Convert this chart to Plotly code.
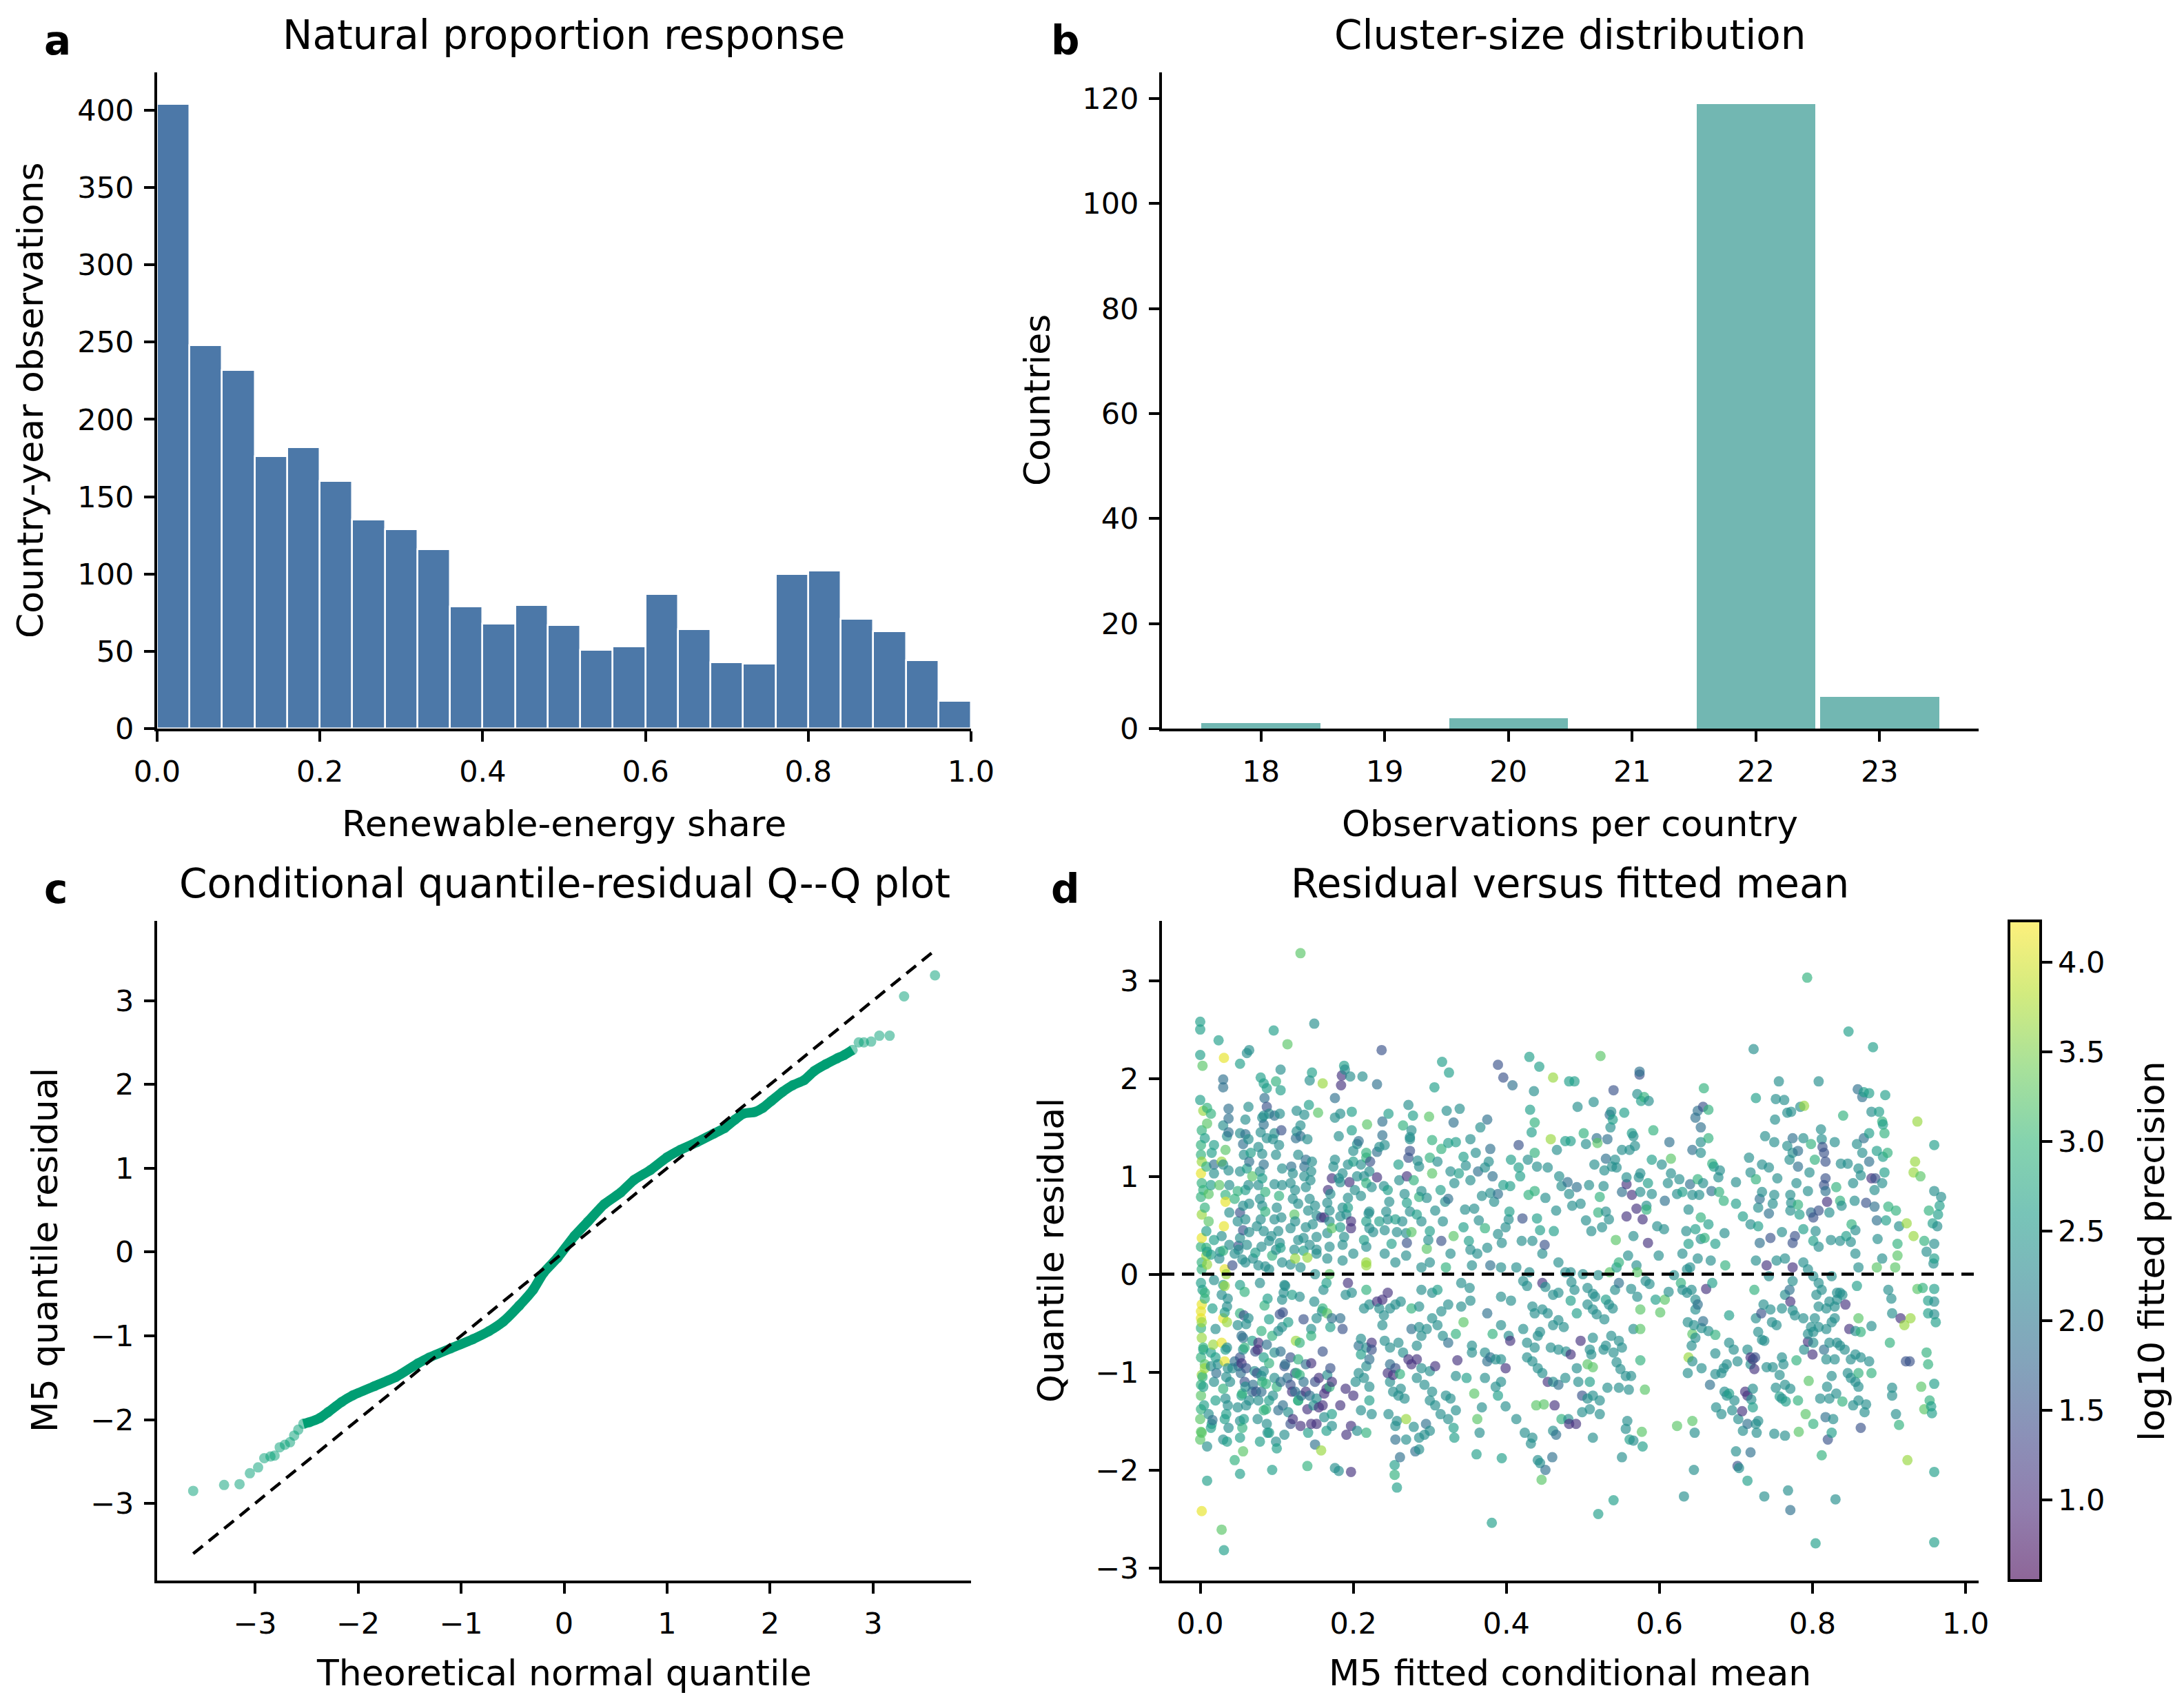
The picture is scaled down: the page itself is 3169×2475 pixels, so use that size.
import plotly.graph_objects as go
from plotly.colors import sequential, hex_to_rgb

W, H = 3169, 2475
FONT = "DejaVu Sans"

# ---- panel a: renewable-energy share histogram (bin width 0.04)
share_bin_mid = [0.02, 0.06, 0.10, 0.14, 0.18, 0.22, 0.26, 0.30, 0.34, 0.38, 0.42, 0.46, 0.50,
                 0.54, 0.58, 0.62, 0.66, 0.70, 0.74, 0.78, 0.82, 0.86, 0.90, 0.94, 0.98]
share_count = [404, 248, 232, 176, 182, 160, 135, 129, 116, 79, 68, 80, 67,
               51, 53, 87, 64, 43, 42, 100, 102, 71, 63, 44, 18]

# ---- panel b: observations per country
obs_per_country = [18, 19, 20, 21, 22, 23]
country_count = [1, 0, 2, 0, 119, 6]

# ---- panel c: Q-Q points
qq_theory = [-3.60, -3.30, -3.15, -3.05, -2.97, -2.91, -2.85, -2.81, -2.76, -2.71,
             -2.66, -2.62, -2.58, -2.53, -2.47, -2.37, -2.29, -2.16, -2.05, -1.84,
             -1.63, -1.42, -1.31, -1.10, -0.885, -0.73, -0.59, -0.435, -0.30, -0.20,
             -0.064, 0.10, 0.23, 0.39, 0.55, 0.68, 0.84, 1.00, 1.13, 1.29,
             1.45, 1.56, 1.66, 1.74, 1.85, 1.93, 2.01, 2.12, 2.22, 2.33,
             2.43, 2.54, 2.65, 2.72, 2.80, 2.86, 2.91, 2.98, 3.06, 3.16, 3.30, 3.60]
qq_resid = [-2.85, -2.78, -2.77, -2.64, -2.57, -2.46, -2.44, -2.43, -2.33, -2.30,
            -2.27, -2.19, -2.12, -2.05, -2.03, -1.98, -1.91, -1.79, -1.71, -1.60,
            -1.49, -1.33, -1.26, -1.15, -1.04, -0.945, -0.83, -0.64, -0.45, -0.25,
            -0.07, 0.19, 0.36, 0.57, 0.71, 0.86, 0.98, 1.13, 1.22, 1.31,
            1.41, 1.48, 1.58, 1.65, 1.67, 1.72, 1.80, 1.91, 1.99, 2.05,
            2.16, 2.24, 2.31, 2.35, 2.41, 2.50, 2.50, 2.51, 2.58, 2.58, 3.05, 3.30]
qq_ref = [-3.6, 3.6]

# ---- panel d: (fitted mean, quantile residual) grouped by log10 fitted precision
prec_11 = [(0.185,2.03),(0.184,1.93),(0.27,1.00),(0.231,0.99),(0.195,0.94),(0.197,0.47),(0.197,0.54),(0.172,0.98),(0.167,0.86),(0.162,0.58),
    (0.877,0.98),(0.819,0.74),(0.557,0.92),(0.564,0.81),(0.557,0.59),(0.57,0.67),(0.578,0.56),(0.585,0.32),
    (0.076,-0.70),(0.075,-0.77),(0.121,-1.48),(0.131,-1.55),(0.138,-1.20),(0.14,-1.38),(0.155,-1.36),(0.155,-1.06),(0.162,-1.22),(0.172,-1.10),
    (0.152,-1.53),(0.183,-1.34),(0.19,-1.17),(0.2,-1.24),(0.197,-1.55),(0.191,-1.64),(0.197,-2.02),(0.193,-0.09),(0.224,-0.70),(0.231,-0.28),
    (0.238,-0.26),(0.245,-0.19),(0.245,-1.01),(0.252,-1.03),(0.272,-0.87),(0.276,-0.92),(0.283,-0.87),(0.307,-0.94),(0.336,-0.88),(0.399,-0.96),
    (0.405,-0.68),(0.463,-1.34),(0.482,-1.53),(0.454,-1.10),(0.447,-0.09),
    (0.661,-0.15),(0.708,-1.40),(0.712,-1.20),(0.715,-1.24),(0.719,-0.85),(0.722,-0.87),(0.724,-0.97),(0.74,0.09),(0.491,-1.53),(0.497,-0.68),
    (0.484,-0.82),(0.8,-0.82),(0.794,-0.69),(0.843,-0.31),(0.771,-0.28),(0.774,0.07),(0.848,-0.56),(0.915,-0.45),
    (0.054,-0.91),(0.12,-1.20),(0.145,-0.91),(0.165,-1.17),(0.16,-1.34),(0.145,-1.53)]
prec_15 = [(0.237,2.29),(0.389,2.14),(0.396,2.01),(0.416,1.32),(0.421,0.57),(0.45,0.30),(0.315,0.34),(0.274,1.26),(0.272,1.19),(0.27,0.32),
    (0.222,1.15),(0.158,0.58),(0.106,1.47),(0.087,1.71),(0.052,0.63),(0.056,0.45),
    (0.574,2.04),(0.540,1.88),(0.657,1.71),(0.813,1.30),(0.815,1.24),(0.817,1.15),(0.882,0.98),(0.817,0.98),(0.815,0.91),(0.808,0.65),
    (0.801,0.58),(0.87,0.73),(0.777,0.39),(0.774,0.32),(0.745,0.37),
    (0.052,-0.85),(0.104,-0.41),(0.118,-0.85),(0.118,-1.13),(0.124,-1.01),(0.186,-0.56),(0.224,-0.77),(0.255,-0.96),(0.042,0.09),
    (0.702,-1.96),(0.725,-0.85),(0.733,-0.40),(0.499,-1.24),(0.82,-1.69),(0.863,-1.57),(0.922,-0.89),(0.927,-0.89),
    (0.05,0.29),(0.057,-0.42),(0.06,-0.96),(0.058,-1.10),(0.072,-0.79),(0.074,-1.01),(0.073,-1.20),(0.108,-0.39),(0.11,-0.94),(0.118,-1.53),
    (0.135,-0.46),(0.16,-0.79),(0.17,-0.96),(0.15,-1.10)]
prec_19 = [(0.03,1.99),(0.03,1.91),(0.176,1.80),(0.084,1.80),(0.231,1.94),(0.408,1.93),
    (0.037,1.69),(0.097,1.62),(0.238,1.56),(0.331,1.55),(0.375,1.58),(0.48,0.94),(0.389,0.82),(0.379,1.28),(0.382,1.00),(0.363,1.05),
    (0.324,0.77),(0.238,1.42),(0.231,1.25),(0.207,1.36),(0.136,1.10),(0.138,1.17),(0.131,1.41),(0.125,1.39),(0.119,1.10),(0.083,1.53),
    (0.083,1.12),(0.059,1.43),(0.056,1.33),(0.064,1.15),(0.037,1.59),(0.037,1.45),(0.018,1.12),
    (0.574,2.07),(0.859,1.89),(0.865,1.81),(0.535,1.63),(0.65,1.67),(0.647,1.60),(0.654,1.50),(0.643,1.27),(0.613,1.35),(0.518,1.39),
    (0.532,1.38),(0.774,1.39),(0.781,1.26),(0.781,1.10),(0.867,1.39),(0.874,1.15),(0.817,0.85),(0.743,0.62),(0.731,0.77),(0.668,0.85),
    (0.64,0.92),(0.607,0.75),(0.551,0.84),(0.53,1.18),(0.492,0.89),(0.798,0.63),(0.881,0.69),(0.884,0.55),(0.731,0.32),
    (0.016,-1.49),(0.045,-0.89),(0.05,-0.94),(0.054,-0.63),(0.069,-1.13),(0.068,-1.20),(0.08,-1.20),(0.102,-1.39),(0.111,-0.92),(0.114,-1.06),
    (0.124,-1.20),(0.138,-0.92),(0.135,-1.10),(0.143,-1.24),(0.15,-1.74),(0.172,-0.45),(0.183,-0.45),(0.207,-0.73),(0.221,-0.87),(0.248,-0.92),
    (0.255,-1.69),(0.281,-1.81),(0.261,-1.87),(0.276,-0.56),(0.295,-1.53),(0.324,-0.70),(0.379,-0.85),(0.375,-0.89),(0.375,-0.40),(0.451,-2.00),
    (0.46,-1.87),(0.465,-1.64),(0.468,-1.13),(0.379,0.09),
    (0.547,-0.09),(0.65,-0.31),(0.657,-0.48),(0.666,-1.13),(0.715,-1.53),(0.719,-1.82),(0.771,-2.41),(0.817,-1.46),(0.815,-0.77),(0.77,-0.16),
    (0.021,-1.01),(0.056,-0.65),(0.053,-1.01),(0.087,-0.72),(0.105,-0.79),(0.105,-1.10),(0.108,-1.34),(0.132,-1.24)]
prec_22 = [(0.061,2.26),(0.064,2.29),(0.149,2.56),(0.105,2.09),(0.143,1.98),(0.189,2.09),(0.196,2.02),(0.212,2.02),(0.436,1.87),
    (0.063,1.71),(0.059,1.58),(0.083,1.62),(0.104,1.64),(0.126,1.67),(0.136,1.63),(0.176,1.60),(0.183,1.64),(0.272,1.73),(0.322,1.67),
    (0.339,1.69),(0.366,1.50),(0.466,1.27),(0.428,1.17),(0.44,1.10),(0.454,1.09),(0.469,1.00),(0.472,0.90),(0.451,0.78),(0.465,0.65),
    (0.42,0.34),(0.434,0.34),(0.384,0.74),(0.377,1.15),(0.372,1.09),(0.379,0.83),(0.403,0.56),(0.399,0.48),(0.389,0.41),(0.36,1.24),
    (0.353,1.38),(0.347,1.11),(0.353,0.96),(0.368,0.80),(0.358,0.67),(0.346,0.66),(0.364,0.55),(0.375,0.27),(0.353,0.25),(0.394,0.32),
    (0.31,1.15),(0.327,1.05),(0.332,0.93),(0.32,0.74),(0.307,0.65),(0.317,0.54),(0.289,0.85),(0.296,0.78),(0.289,0.54),(0.298,0.35),
    (0.274,1.38),(0.284,1.16),(0.286,1.10),(0.26,0.96),(0.267,0.82),(0.274,0.64),(0.264,0.54),(0.257,0.43),(0.269,0.42),(0.276,1.47),
    (0.274,1.40),(0.234,1.30),(0.241,1.32),(0.221,1.05),(0.214,1.00),(0.224,0.89),(0.24,0.90),(0.247,0.74),(0.243,0.64),(0.245,0.56),
    (0.241,0.45),(0.22,0.62),(0.221,0.64),(0.221,0.47),(0.226,0.43),(0.217,0.28),(0.2,1.26),(0.205,1.33),(0.21,1.12),(0.193,1.12),
    (0.186,1.03),(0.205,1.00),(0.202,0.86),(0.21,0.80),(0.193,0.78),(0.186,0.68),(0.191,0.61),(0.183,0.59),(0.188,0.38),(0.186,0.30),
    (0.181,1.41),(0.176,1.17),(0.174,1.10),(0.181,0.98),(0.183,0.94),(0.17,0.82),(0.166,0.73),(0.169,0.65),(0.169,0.54),(0.166,0.42),
    (0.169,0.28),(0.146,1.15),(0.145,1.05),(0.136,1.00),(0.144,0.96),(0.138,0.89),(0.143,0.77),(0.15,0.70),(0.141,0.65),(0.152,0.60),
    (0.147,0.51),(0.138,0.48),(0.135,0.37),(0.152,0.38),(0.143,0.30),(0.152,0.25),(0.131,1.52),(0.126,1.46),(0.14,1.38),(0.128,1.22),
    (0.121,1.03),(0.118,0.93),(0.124,0.86),(0.121,0.77),(0.128,0.72),(0.124,0.54),(0.118,0.47),(0.128,0.35),(0.123,0.25),(0.097,1.44),
    (0.103,1.32),(0.095,1.38),(0.107,1.08),(0.099,1.22),(0.107,0.91),(0.097,0.92),(0.1,0.68),(0.106,0.58),(0.097,0.56),(0.102,0.44),
    (0.093,0.39),(0.104,0.32),(0.099,0.25),(0.09,1.64),(0.081,1.60),(0.079,1.45),(0.087,1.39),(0.076,1.30),(0.081,1.23),(0.078,1.05),
    (0.076,0.91),(0.078,0.77),(0.081,0.70),(0.079,0.56),(0.074,0.49),(0.083,0.44),(0.09,0.34),(0.08,0.28),(0.052,1.44),(0.063,1.38),
    (0.057,1.22),(0.052,1.05),(0.063,0.91),(0.056,0.70),(0.064,0.72),(0.059,0.56),(0.049,0.54),(0.064,0.43),(0.052,0.37),(0.061,0.30),
    (0.05,0.25),(0.03,1.52),(0.035,1.41),(0.03,1.12),(0.037,1.06),(0.038,0.91),(0.038,0.63),(0.028,0.39),(0.038,0.30),(0.026,0.23),
    (0.018,1.03),
    (0.723,2.30),(0.756,1.97),(0.808,1.97),(0.752,1.79),(0.763,1.78),(0.493,1.71),(0.514,1.76),(0.571,1.84),(0.586,1.77),(0.537,1.66),
    (0.536,1.50),(0.784,1.71),(0.767,1.65),(0.772,1.66),(0.751,1.58),(0.877,1.66),(0.654,1.35),(0.654,1.24),(0.504,1.33),(0.566,1.41),
    (0.561,1.27),(0.568,1.31),(0.551,1.27),(0.738,1.41),(0.75,1.35),(0.788,1.39),(0.767,1.31),(0.774,1.24),(0.77,1.17),(0.779,0.93),
    (0.811,1.48),(0.812,1.38),(0.829,1.35),(0.858,1.33),(0.865,1.24),(0.837,1.13),(0.846,1.13),(0.86,1.08),(0.863,1.01),(0.891,0.93),
    (0.881,0.86),(0.853,0.93),(0.796,1.04),(0.838,0.70),(0.794,0.85),(0.772,0.73),(0.771,0.81),(0.75,0.81),(0.748,0.72),(0.729,0.68),
    (0.734,0.84),(0.754,0.98),(0.717,1.19),(0.719,1.04),(0.734,1.12),(0.743,1.09),(0.7,0.94),(0.719,0.51),(0.679,1.06),(0.677,0.99),
    (0.657,0.93),(0.643,0.81),(0.652,0.81),(0.626,0.97),(0.623,0.82),(0.615,1.03),(0.611,0.93),(0.603,1.12),(0.59,0.82),(0.575,1.03),
    (0.573,0.99),(0.575,0.84),(0.557,0.99),(0.544,1.09),(0.538,1.10),(0.528,1.06),(0.542,1.17),(0.515,1.12),(0.527,0.90),(0.508,0.91),
    (0.482,0.82),(0.497,0.72),(0.486,0.70),(0.53,0.64),(0.534,0.56),(0.504,0.55),(0.511,0.44),(0.525,0.48),(0.583,0.70),(0.597,0.49),
    (0.606,0.46),(0.566,0.39),(0.638,0.66),(0.635,0.44),(0.685,0.42),(0.654,0.36),(0.771,0.65),(0.822,0.63),(0.855,0.75),(0.856,0.45),
    (0.913,0.49),(0.959,0.85),(0.968,0.79),(0.963,0.49),(0.76,0.43),(0.824,0.35),(0.836,0.34),(0.85,0.33),(0.885,0.36),(0.959,0.31),
    (0.804,0.44),(0.808,0.28),
    (0.009,-1.76),(0.011,-1.43),(0.014,-0.94),(0.023,-0.92),(0.035,-0.75),(0.028,-0.21),(0.035,-0.33),(0.033,-1.27),(0.03,-1.69),(0.039,-1.10),
    (0.042,-0.96),(0.056,-0.77),(0.049,-0.52),(0.059,-1.15),(0.049,-1.36),(0.052,-1.50),(0.064,-1.29),(0.071,-0.99),(0.063,-0.45),(0.083,-0.99),
    (0.076,-1.29),(0.087,-1.53),(0.088,-1.62),(0.08,-1.04),(0.097,-0.80),(0.097,-1.06),(0.095,-1.24),(0.099,-1.71),(0.107,-0.54),(0.107,-0.26),
    (0.111,-0.12),(0.109,-0.19),(0.148,-1.34),(0.152,-1.27),(0.166,-1.03),(0.162,-1.46),(0.172,-1.55),(0.145,-0.56),(0.152,-0.45),(0.149,-0.28),
    (0.159,-0.38),(0.161,-0.16),(0.205,-1.60),(0.176,-1.98),(0.181,-2.01),(0.19,-0.21),(0.198,-0.19),(0.21,-0.66),(0.217,-0.75),(0.217,-0.94),
    (0.207,-1.01),(0.214,-1.06),(0.221,-1.15),(0.21,-1.39),(0.224,-1.43),(0.203,-1.10),(0.221,-0.31),(0.214,-0.35),(0.234,-0.35),(0.238,-0.52),
    (0.24,-0.42),(0.248,-0.35),(0.255,-0.31),(0.262,-0.28),(0.248,-1.10),(0.252,-1.20),(0.262,-1.17),(0.267,-1.27),(0.259,-1.24),(0.241,-0.68),
    (0.248,-0.75),(0.259,-0.70),(0.265,-0.80),(0.246,-1.43),(0.257,-1.50),(0.255,-1.55),(0.269,-1.69),(0.279,-1.56),(0.286,-1.79),(0.286,-0.54),
    (0.289,-0.63),(0.283,-0.73),(0.283,-1.06),(0.289,-0.96),(0.3,-0.99),(0.293,-1.13),(0.303,-1.20),(0.3,-1.29),(0.307,-1.34),(0.293,-1.64),
    (0.286,-1.67),(0.3,-1.60),(0.314,-1.43),(0.324,-1.48),(0.321,-1.24),(0.327,-1.27),(0.334,-1.39),(0.286,-0.33),(0.289,-0.16),(0.303,-0.19),
    (0.296,-0.56),(0.303,-0.45),(0.31,-0.52),(0.317,-0.63),(0.334,-1.04),(0.315,-0.38),(0.324,-0.31),(0.341,-0.33),(0.353,-0.27),(0.368,-1.36),
    (0.365,-1.62),(0.372,-1.06),(0.386,-1.15),(0.393,-1.10),(0.399,-1.35),(0.355,-0.73),(0.355,-0.80),(0.372,-0.80),(0.386,-0.87),(0.393,-0.87),
    (0.393,-0.52),(0.403,-0.63),(0.393,-0.23),(0.406,-0.27),(0.422,-0.56),(0.413,-1.48),(0.424,-1.62),(0.434,-1.67),(0.432,-1.73),(0.441,-1.90),
    (0.444,-1.93),(0.461,-1.60),(0.427,-0.85),(0.434,-0.89),(0.441,-0.96),(0.447,-1.01),(0.461,-1.10),(0.477,-1.06),(0.427,-0.70),(0.437,-0.75),
    (0.441,-0.63),(0.444,-0.59),(0.434,-0.33),(0.437,-0.40),(0.447,-0.36),(0.454,-0.40),(0.461,-0.52),(0.468,-0.47),(0.475,-0.54),(0.461,-0.21),
    (0.468,-0.19),(0.458,-0.75),(0.468,-0.77),(0.478,-0.79),(0.451,-0.13),(0.422,-0.07),(0.427,-0.12),(0.025,0.16),(0.045,0.21),(0.059,0.12),
    (0.069,0.16),(0.076,0.09),(0.09,0.05),(0.107,0.12),(0.131,0.07),(0.152,0.21),(0.166,0.16),(0.186,0.14),(0.2,0.21),(0.241,0.21),
    (0.255,0.12),(0.269,0.19),(0.289,0.07),(0.3,0.12),(0.327,0.21),(0.355,0.09),(0.362,0.21),(0.393,0.07),(0.413,0.07),(0.43,0.02),
    (0.447,0.21),(0.468,0.12),(0.477,0.02),(0.341,-0.09),(0.352,-0.14),
    (0.485,-0.08),(0.489,-0.16),(0.506,-0.14),(0.513,-0.20),(0.516,-0.23),(0.506,-0.31),(0.513,-0.36),(0.518,-0.41),(0.534,-0.31),(0.539,-0.35),
    (0.528,-0.46),(0.542,-0.16),(0.563,-0.15),(0.571,-0.23),(0.582,-0.07),(0.587,-0.10),(0.566,-0.56),(0.612,-0.18),(0.619,-0.01),(0.63,-0.16),
    (0.636,-0.19),(0.642,-0.16),(0.636,0.05),(0.64,0.07),(0.647,-0.26),(0.647,-0.36),(0.637,-0.49),(0.645,-0.52),(0.655,-0.55),(0.664,-0.58),
    (0.647,-0.65),(0.642,-0.73),(0.643,-0.89),(0.637,-1.01),(0.655,-0.96),(0.673,-0.81),(0.681,-1.01),(0.673,-1.02),(0.691,-0.70),(0.697,-0.77),
    (0.702,-0.89),(0.688,-0.92),(0.684,-0.96),(0.685,-1.20),(0.688,-1.24),(0.698,-1.29),(0.674,-1.36),(0.681,-1.43),(0.695,-1.39),(0.703,-1.48),
    (0.709,-1.60),(0.722,-1.17),(0.72,-1.28),(0.726,-1.53),(0.729,-1.50),(0.727,-1.62),(0.715,-0.77),(0.719,-0.92),(0.729,-0.59),(0.734,-0.67),
    (0.737,-0.68),(0.726,-0.45),(0.736,-0.31),(0.745,-0.36),(0.747,-0.49),(0.753,-0.52),(0.76,-0.35),(0.743,-0.02),(0.7,-1.81),(0.704,-1.98),
    (0.645,-2.00),(0.632,-2.27),(0.737,-2.27),(0.768,-2.21),(0.83,-2.30),(0.551,-1.87),(0.513,-1.67),(0.558,-1.50),(0.556,-1.58),(0.566,-1.70),
    (0.646,-1.62),(0.481,-1.48),(0.499,-1.41),(0.509,-1.38),(0.522,-1.43),(0.506,-1.27),(0.513,-1.24),(0.522,-1.29),(0.494,-1.10),(0.532,-1.16),
    (0.547,-1.16),(0.56,-1.18),(0.556,-1.04),(0.563,-1.04),(0.544,-0.90),(0.549,-0.97),(0.492,-0.96),(0.509,-0.77),(0.511,-0.82),(0.53,-0.73),
    (0.537,-0.63),(0.547,-0.68),(0.527,-0.77),(0.551,-0.75),(0.54,-0.80),(0.513,-0.65),(0.74,-0.95),(0.748,-0.95),(0.76,-0.85),(0.762,-0.92),
    (0.757,-1.03),(0.752,-1.16),(0.764,-1.13),(0.771,-1.17),(0.76,-1.27),(0.75,-1.63),(0.764,-1.65),(0.81,-1.27),(0.822,-1.27),(0.831,-1.22),
    (0.819,-1.15),(0.825,-1.04),(0.827,-1.48),(0.853,-1.34),(0.86,-1.29),(0.87,-1.33),(0.868,-1.41),(0.789,-0.77),(0.822,-0.70),(0.818,-0.87),
    (0.829,-0.87),(0.836,-0.73),(0.842,-0.77),(0.832,-0.70),(0.85,-0.87),(0.856,-0.82),(0.863,-0.85),(0.874,-0.89),(0.85,-1.06),(0.846,-1.01),
    (0.856,-1.10),(0.86,-1.15),(0.801,-0.70),(0.808,-0.54),(0.801,-0.59),(0.803,-0.45),(0.808,-0.33),(0.794,-0.61),(0.818,-0.56),(0.825,-0.49),
    (0.829,-0.45),(0.818,-0.35),(0.822,-0.28),(0.829,-0.33),(0.832,-0.26),(0.839,-0.21),(0.836,-0.19),(0.777,-0.42),(0.774,-0.37),(0.798,-0.54),
    (0.788,-0.45),(0.774,-0.07),(0.764,-0.21),(0.788,0.12),(0.794,0.05),(0.801,-0.02),(0.808,-0.09),(0.812,-0.16),(0.805,-0.21),(0.825,-0.02),
    (0.832,-0.19),(0.856,-0.58),(0.877,-0.53),(0.899,-0.16),(0.903,-0.25),(0.904,-0.40),(0.959,-0.28),(0.959,-0.41),(0.904,-1.16),(0.904,-1.24),
    (0.909,-1.43),(0.484,0.02),(0.5,0.0),(0.52,-0.01),(0.559,0.19),(0.57,0.09),(0.599,0.19),(0.63,0.21),(0.65,0.16),(0.667,0.14),
    (0.726,0.14),(0.753,0.14),(0.764,0.16),(0.856,0.21),(0.86,0.07),(0.891,0.16),(0.949,0.23),(0.958,0.11),
    (0.018,-0.06),(0.02,-0.56),(0.018,-1.10),(0.036,-0.25),(0.036,-0.96),(0.034,-1.05),(0.036,-1.34),(0.037,-1.57),(0.055,0.15),(0.06,-0.51),
    (0.06,-1.34),(0.085,0.08),(0.078,-0.09),(0.075,-1.48),(0.118,0.10),(0.11,-0.11),(0.102,-0.58),(0.115,-1.41),(0.11,-1.64),(0.15,0.0),
    (0.13,-0.23)]
prec_26 = [(0.0,2.58),(0.0,2.50),(0.024,2.39),(0.0,2.24),(0.052,2.15),(0.0,1.78),(0.096,2.49),(0.079,2.01),(0.083,1.95),(0.087,1.90),
    (0.105,1.88),(0.146,2.06),(0.188,2.13),(0.316,2.17),(0.325,2.06),(0.306,1.91),(0.43,2.22),(0.443,2.12),(0.482,1.97),
    (0.142,1.73),(0.198,1.66),(0.246,1.64),(0.278,1.62),(0.431,1.68),(0.433,1.45),(0.477,1.36),(0.406,1.17),(0.416,1.09),(0.418,1.00),
    (0.44,0.57),(0.444,0.45),(0.462,0.44),(0.396,0.91),(0.405,0.90),(0.404,0.64),(0.344,1.20),(0.338,1.03),(0.344,0.48),(0.351,0.34),
    (0.324,1.34),(0.334,1.35),(0.314,0.86),(0.3,0.44),(0.283,0.61),(0.259,1.12),(0.27,0.73),(0.255,0.56),(0.25,0.31),(0.245,0.86),
    (0.234,0.54),(0.217,0.54),(0.214,0.35),(0.2,1.15),(0.193,0.68),(0.183,0.48),(0.198,1.47),(0.081,0.98),(0.066,1.24),(0.061,1.08),
    (0.059,0.86),(0.008,0.44),(0.018,0.35),(0.018,1.32),(0.006,1.39),(0.014,0.91),(0.009,0.23),(0.015,1.24),
    (0.847,2.48),(0.879,2.32),(0.489,1.97),(0.867,1.86),(0.874,1.85),(0.895,1.83),(0.726,1.80),(0.576,1.77),(0.539,1.58),(0.554,1.65),
    (0.887,1.66),(0.892,1.53),(0.484,1.36),(0.564,1.44),(0.874,1.44),(0.884,1.26),(0.892,1.20),(0.959,1.32),(0.894,1.04),(0.7,0.72),
    (0.709,0.59),(0.729,0.49),(0.671,1.10),(0.63,0.84),(0.59,1.17),(0.585,0.93),(0.664,0.51),(0.647,0.46),(0.638,0.31),(0.673,0.31),
    (0.783,0.61),(0.896,0.55),(0.966,0.70),(0.964,0.61),(0.957,0.52),(0.788,0.46),(0.844,0.39),(0.801,0.34),
    (0.001,-0.09),(0.009,-2.11),(0.031,-2.82),(0.014,-1.57),(0.014,-0.80),(0.02,-0.85),(0.032,-1.48),(0.052,-2.04),(0.054,-1.24),(0.052,-1.67),
    (0.068,-0.68),(0.083,-0.85),(0.1,-1.78),(0.094,-2.00),(0.128,-1.29),(0.141,-1.62),(0.21,-0.82),(0.221,-1.29),(0.254,-1.95),(0.257,-2.18),
    (0.331,-1.57),(0.332,-1.67),(0.31,-0.16),(0.348,-1.06),(0.361,-1.84),(0.389,-1.24),(0.394,-1.88),(0.381,-2.54),
    (0.484,-0.27),(0.492,-0.40),(0.53,-0.26),(0.544,0.07),(0.595,-0.26),(0.669,-0.09),(0.691,-0.42),(0.691,-1.22),(0.722,-1.36),(0.715,-2.11),
    (0.804,-2.75),(0.959,-2.74),(0.959,-2.02),(0.54,-2.31),(0.52,-2.45),(0.561,-1.69),(0.578,-1.76),(0.509,-1.10),(0.757,-1.25),(0.765,-1.30),
    (0.825,-1.62),(0.858,-0.12),(0.959,-0.15),(0.951,-0.27),(0.951,-0.40),(0.961,-0.49),(0.959,-1.12),(0.956,-1.42),(0.955,-1.35),(0.959,0.16),
    (0.003,-0.16),(0.004,-0.77),(0.004,-1.15),(0.005,-1.34),(0.014,0.20),(0.016,-0.35),(0.02,-1.29),(0.015,-1.53),(0.03,-0.11),(0.032,-0.39),
    (0.033,-0.77),(0.034,-1.43),(0.035,-1.71),(0.052,-0.11),(0.057,-1.48),(0.072,0.22),(0.088,-0.25),(0.09,-0.46),(0.09,-1.29),(0.09,-1.62),
    (0.078,-1.71),(0.105,0.27),(0.12,-0.21),(0.115,-0.49),(0.135,0.24),(0.165,-0.09),(0.17,-0.54),(0.172,-1.43),(0.165,-1.60)]
prec_29 = [(0.099,1.97),(0.009,1.70),(0.437,1.55),(0.437,1.24),(0.429,0.81),(0.437,0.85),(0.372,0.47),(0.315,1.28),(0.3,1.19),(0.303,1.37),
    (0.286,0.79),(0.279,0.96),(0.265,1.52),(0.217,0.93),(0.217,1.24),(0.217,1.19),(0.103,0.80),(0.085,0.84),(0.085,0.64),(0.049,0.85),
    (0.045,0.77),(0.033,0.81),(0.014,1.64),(0.002,1.47),(0.001,1.22),(0.002,0.93),(0.004,0.86),(0.001,1.32),(0.008,1.10),(0.001,0.79),
    (0.006,0.68),(0.001,0.28),
    (0.793,3.03),(0.658,1.90),(0.58,1.81),(0.664,1.68),(0.84,1.62),(0.891,1.56),(0.664,1.39),(0.592,1.47),(0.501,1.44),(0.798,1.33),
    (0.894,1.44),(0.898,1.24),(0.803,1.17),(0.831,0.89),(0.836,0.75),(0.781,0.71),(0.726,0.97),(0.669,1.13),(0.678,0.84),(0.684,0.75),
    (0.65,0.97),(0.522,0.79),(0.52,0.63),(0.583,0.66),(0.654,0.58),(0.659,0.37),(0.899,0.69),(0.909,0.65),(0.851,0.51),(0.952,0.65),
    (0.911,0.31),(0.946,0.34),
    (0.006,-0.19),(0.001,-0.55),(0.004,-0.75),(0.001,-0.85),(0.001,-1.13),(0.001,-1.38),(0.03,-1.17),(0.045,-1.90),(0.052,-0.40),(0.081,-1.10),
    (0.083,-1.39),(0.1,-1.15),(0.094,-0.63),(0.14,-1.96),(0.169,-1.15),(0.217,-1.62),(0.217,-0.16),(0.261,-1.02),(0.254,-2.05),(0.276,-0.35),
    (0.334,-0.61),(0.382,-0.61),(0.472,-1.48),(0.002,0.12),(0.002,0.05),(0.094,0.19),(0.321,0.07),
    (0.547,0.12),(0.628,-0.09),(0.673,-0.62),(0.724,-0.16),(0.575,-0.88),(0.779,-0.88),(0.781,-1.29),(0.801,-1.53),(0.812,-1.85),(0.839,-1.30),
    (0.877,-1.01),(0.86,-1.01),(0.863,-0.59),(0.901,-0.70),(0.944,-0.14),(0.949,-0.80),(0.951,-0.92),(0.953,-1.29),(0.913,-1.54),(0.686,0.09),
    (0.006,-0.25),(0.003,-1.05),(0.008,0.27),(0.03,0.24),(0.058,-0.18),(0.058,-0.75),(0.055,-1.22),(0.055,-1.57),(0.084,-0.32),(0.08,-0.58),
    (0.09,-0.91),(0.086,-1.12),(0.086,-1.38),(0.128,-0.87),(0.126,-1.01),(0.128,-1.29),(0.16,-0.35),(0.145,-0.63),(0.13,-0.70),(0.13,-1.03)]
prec_33 = [(0.131,3.28),(0.114,2.35),(0.003,2.13),(0.025,0.91),(0.033,1.27),(0.154,1.65),(0.218,1.53),(0.299,1.61),(0.296,0.26),(0.331,0.39),
    (0.276,0.43),(0.172,0.47),(0.123,0.61),(0.068,1.00),(0.303,1.03),(0.009,1.54),(0.011,0.82),(0.011,0.54),
    (0.523,2.23),(0.615,1.18),(0.543,0.35),(0.941,1.00),(0.519,1.34),
    (0.001,-1.24),(0.0,-1.48),(0.001,-1.61),(0.0,-1.69),(0.028,-2.61),(0.056,-1.81),(0.006,-0.92),(0.166,-0.40),(0.344,-0.49),(0.358,-1.22),
    (0.362,-1.48),(0.439,-1.34),(0.449,-1.33),(0.446,-2.10),(0.169,0.0),
    (0.575,-0.36),(0.607,-0.26),(0.601,-0.39),(0.575,-0.56),(0.643,-0.61),(0.506,-0.92),(0.513,-0.95),(0.581,-1.18),(0.577,-1.61),(0.623,-1.55),
    (0.643,-1.50),(0.782,-1.61),(0.791,-1.43),(0.795,-1.09),(0.86,-0.45),(0.937,-0.15),(0.942,-1.15),(0.946,-1.38),(0.535,0.02),(0.571,0.02),
    (0.884,0.07),(0.908,0.07),(0.911,0.19),(0.002,-1.62)]
prec_37 = [(0.16,1.95),(0.461,2.01),(0.458,1.38),(0.004,1.67),(0.002,1.15),(0.028,1.15),(0.002,0.61),
    (0.789,1.72),(0.937,1.56),(0.934,1.15),(0.932,1.04),(0.923,0.52),(0.932,0.39),
    (0.002,-0.49),(0.002,-0.65),(0.002,-1.03),(0.032,-0.12),(0.158,-1.80),(0.269,-1.48),(0.217,0.09),(0.008,0.19),(0.124,0.16),(0.217,0.12),
    (0.638,-0.85),(0.92,-0.52),(0.928,-0.45),(0.924,-1.90),
    (0.006,-0.96),(0.009,0.10),(0.017,-0.72),(0.034,0.0),(0.035,-0.49),(0.125,-0.68),(0.14,0.17)]
prec_41 = [(0.031,2.21),(0.002,-0.31),(0.001,-0.38),(0.001,-0.45),(0.002,-2.42),(0.03,-0.45),(0.028,-0.70),(0.032,-0.89),(0.001,1.03),
    (0.033,0.74),(0.031,0.49),(0.002,0.37),(0.032,0.05)]

prec_levels = [1.1, 1.5, 1.9, 2.35, 2.6, 2.9, 3.25, 3.65, 4.1]
prec_groups = [prec_11, prec_15, prec_19, prec_22, prec_26, prec_29, prec_33, prec_37, prec_41]
prec_min, prec_max = 0.55, 4.23
zero_ref = 0.0


def px_x(px):
    return px / W


def px_y(py):
    return 1 - py / H


def axis(domain, rng, anchor, **kw):
    return dict(domain=domain, range=rng, anchor=anchor, showline=True, linecolor="black",
                linewidth=4, ticks="outside", ticklen=15, tickwidth=4, tickcolor="black",
                showgrid=False, zeroline=False, ticklabelstandoff=6, automargin=False,
                tickfont=dict(size=43, family=FONT, color="black"), **kw)


def note(text, px, py, size, angle=0):
    return dict(text=text, x=px_x(px), y=px_y(py), xref="paper", yref="paper", showarrow=False,
                xanchor="center", yanchor="middle", textangle=angle,
                font=dict(size=size, family=FONT, color="black"))


# panel boxes in pixels
left_x = [px_x(228), px_x(1409)]
right_x = [px_x(1686), px_x(2871)]
top_y = [px_y(1057), px_y(105)]
bot_y = [px_y(2293), px_y(1336)]

fig = go.Figure()

fig.add_trace(go.Bar(x=share_bin_mid, y=share_count, width=0.04,
                     marker=dict(color="#4C78A8", line=dict(color="white", width=2.5)),
                     xaxis="x", yaxis="y", showlegend=False))

fig.add_trace(go.Bar(x=obs_per_country, y=country_count, width=0.96,
                     marker=dict(color="#72B7B2", line=dict(width=0)),
                     xaxis="x2", yaxis="y2", showlegend=False))

# Q-Q: single points plus the dense run drawn as a thick band
dense = [(a, b) for a, b in zip(qq_theory, qq_resid) if -2.55 <= a <= 2.82]
fig.add_trace(go.Scatter(x=qq_theory, y=qq_resid, mode="markers",
                         marker=dict(size=15, color="#009E73", opacity=0.5, line=dict(width=0)),
                         xaxis="x3", yaxis="y3", showlegend=False))
fig.add_trace(go.Scatter(x=[a for a, _ in dense], y=[b for _, b in dense], mode="lines",
                         line=dict(color="#009E73", width=14, shape="spline", smoothing=0.5),
                         xaxis="x3", yaxis="y3", showlegend=False))
fig.add_trace(go.Scatter(x=qq_ref, y=qq_ref, mode="lines",
                         line=dict(color="black", width=4.5, dash="18px,11px"),
                         xaxis="x3", yaxis="y3", showlegend=False))

# residual vs fitted mean
pts = [(x, y, lv) for lv, grp in zip(prec_levels, prec_groups) for x, y in grp]
pts.sort(key=lambda p: p[0])
fig.add_trace(go.Scatter(x=[p[0] for p in pts], y=[p[1] for p in pts], mode="markers",
                         marker=dict(size=15, color=[p[2] for p in pts], colorscale="Viridis",
                                     cmin=prec_min, cmax=prec_max, opacity=0.65, line=dict(width=0)),
                         xaxis="x4", yaxis="y4", showlegend=False))


def fade(h, a=0.6):
    r, g, b = hex_to_rgb(h)
    return "rgb(%d,%d,%d)" % (r * a + 255 * (1 - a), g * a + 255 * (1 - a), b * a + 255 * (1 - a))


vir = sequential.Viridis
faded = [[i / (len(vir) - 1), fade(c)] for i, c in enumerate(vir)]
cb_ticks = [1.0, 1.5, 2.0, 2.5, 3.0, 3.5, 4.0]
fig.add_trace(go.Scatter(x=[None], y=[None], mode="markers", hoverinfo="skip",
                         marker=dict(color=[2.0], colorscale=faded, cmin=prec_min, cmax=prec_max,
                                     showscale=True,
                                     colorbar=dict(x=px_x(2915), xanchor="left", y=px_y(2293), yanchor="bottom",
                                                   len=(2293 - 1336) / H, lenmode="fraction",
                                                   thickness=46, thicknessmode="pixels", xpad=0, ypad=0,
                                                   outlinewidth=4, outlinecolor="black",
                                                   ticks="outside", ticklen=15, tickwidth=4, tickcolor="black",
                                                   tickvals=cb_ticks, ticktext=["%.1f" % t for t in cb_ticks],
                                                   tickfont=dict(size=43, family=FONT, color="black"))),
                         xaxis="x4", yaxis="y4", showlegend=False))

fig.update_layout(
    width=W, height=H, autosize=False,
    margin=dict(l=0, r=0, t=0, b=0, autoexpand=False),
    paper_bgcolor="white", plot_bgcolor="white",
    font=dict(family=FONT, color="black"),
    bargap=0,
    xaxis=axis(left_x, [0, 1], "y", tick0=0, dtick=0.2, tickformat=".1f"),
    yaxis=axis(top_y, [0, 424.5], "x", tick0=0, dtick=50),
    xaxis2=axis(right_x, [17.2, 23.8], "y2", tickvals=obs_per_country),
    yaxis2=axis(top_y, [0, 125], "x2", tick0=0, dtick=20),
    xaxis3=axis(left_x, [-3.95, 3.95], "y3", tick0=0, dtick=1),
    yaxis3=axis(bot_y, [-3.92, 3.95], "x3", tick0=0, dtick=1),
    xaxis4=axis(right_x, [-0.05, 1.017], "y4", tick0=0, dtick=0.2, tickformat=".1f"),
    yaxis4=axis(bot_y, [-3.13, 3.61], "x4", tick0=0, dtick=1),
    shapes=[dict(type="line", xref="x4 domain", x0=0, x1=1, yref="y4", y0=zero_ref, y1=zero_ref,
                 line=dict(color="black", width=4.5, dash="18px,11px"), layer="above")],
    annotations=[
        note("Natural proportion response", 818, 51, 58),
        note("Cluster-size distribution", 2278, 51, 58),
        note("Conditional quantile-residual Q--Q plot", 819, 1282, 58),
        note("Residual versus fitted mean", 2278, 1282, 58),
        note("<b>a</b>", 83, 59, 58),
        note("<b>b</b>", 1546, 59, 58),
        note("<b>c</b>", 81, 1290, 58),
        note("<b>d</b>", 1546, 1290, 58),
        note("Renewable-energy share", 818, 1195, 52),
        note("Country-year observations", 44, 581, 52, -90),
        note("Observations per country", 2278, 1195, 52),
        note("Countries", 1505, 581, 52, -90),
        note("Theoretical normal quantile", 818, 2427, 52),
        note("M5 quantile residual", 65, 1814, 52, -90),
        note("M5 fitted conditional mean", 2278, 2427, 52),
        note("Quantile residual", 1525, 1814, 52, -90),
        note("log10 fitted precision", 3122, 1815, 52, -90),
    ],
)

fig.write_html("out.html", config={"displayModeBar": False},
               post_script="document.body.style.margin='0px';")
